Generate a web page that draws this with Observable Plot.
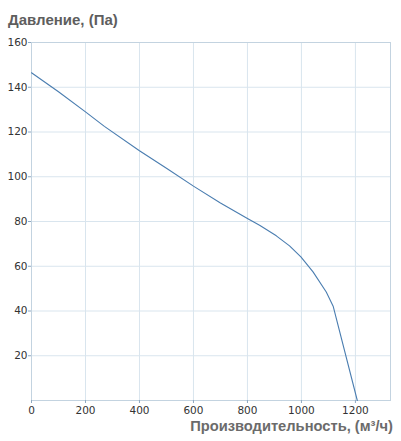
<!DOCTYPE html>
<html><head><meta charset="utf-8">
<script src="https://cdn.jsdelivr.net/npm/d3@7"></script>
<script src="https://cdn.jsdelivr.net/npm/@observablehq/plot@0.6"></script>
<style>
body{margin:0;background:#fff;width:401px;height:441px;overflow:hidden;position:relative;}
#title{height:30px;font:bold 15px "Liberation Sans",Arial,sans-serif;color:#5e5e5e;padding-left:8px;line-height:30px;box-sizing:border-box;padding-top:5px;}
#xtitle{position:absolute;right:8px;top:416px;font:bold 14.7px "Liberation Sans",Arial,sans-serif;color:#6b6b6b;line-height:20px;}
svg{display:block;}
</style></head>
<body>
<div id="title">Давление, (Па)</div>
<div id="chart"></div>
<div id="xtitle">Производительность, (м³/ч)</div>
<script>
const flow = [0, 100, 200, 270, 400, 500, 600, 700, 800, 845, 907, 956, 998, 1043, 1092, 1118, 1207];
const pressure = [146.5, 138, 129, 122.5, 111.6, 103.8, 95.8, 88.3, 81.3, 78.3, 73.6, 69.1, 64.2, 57.5, 48.5, 42, 0];
const xTicks = [0, 200, 400, 600, 800, 1000, 1200];
const yTicks = [20, 40, 60, 80, 100, 120, 140, 160];
const data = flow.map((f, i) => ({flow: f, pressure: pressure[i]}));

const chart = Plot.plot({
  width: 401,
  height: 386,
  marginTop: 12,
  marginLeft: 31,
  marginRight: 11,
  marginBottom: 16,
  style: {fontFamily: "DejaVu Sans", fontSize: "10.5px", color: "#333", background: "#fff"},
  x: {domain: [0, 1330], label: null},
  y: {domain: [0, 160], label: null},
  marks: [
    Plot.gridX(xTicks, {stroke: "#d9e5ee", strokeOpacity: 1}),
    Plot.gridY(yTicks, {stroke: "#d9e5ee", strokeOpacity: 1}),
    Plot.frame({stroke: "#c3d3e0"}),
    Plot.axisX(xTicks, {label: null, tickSize: 3, tickPadding: 3, stroke: "#8fa8c0", tickFormat: d => String(d), fill: "#333"}),
    Plot.axisY(yTicks, {label: null, tickSize: 3, tickPadding: 1, stroke: "#8fa8c0", tickFormat: d => String(d), fill: "#333"}),
    Plot.line(data, {x: "flow", y: "pressure", stroke: "#4a7db0", strokeWidth: 1.1})
  ]
});
document.getElementById("chart").appendChild(chart);
</script>
</body></html>
